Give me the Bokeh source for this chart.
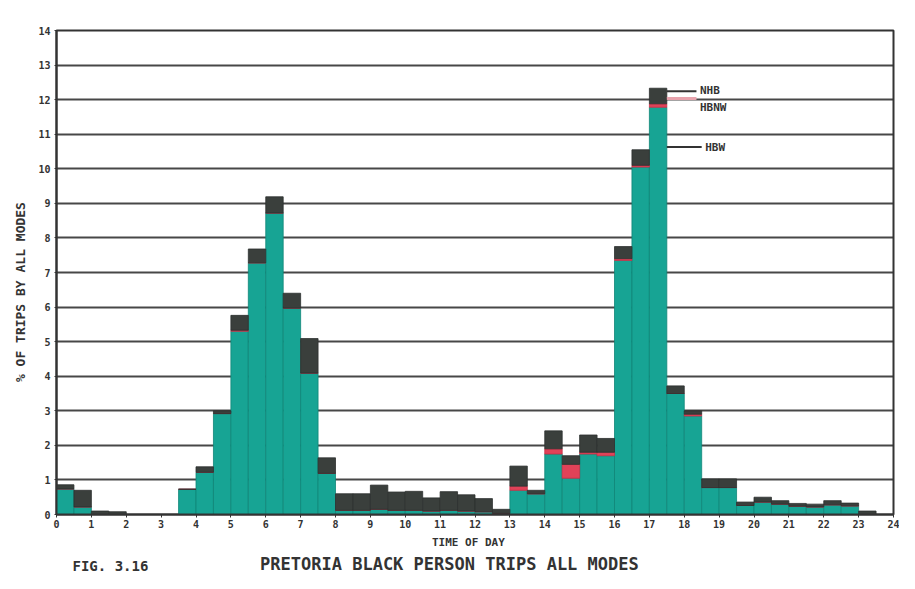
from bokeh.plotting import figure
from bokeh.models import ColumnDataSource, Label, Title, FixedTicker
from bokeh.embed import file_html
from bokeh.resources import INLINE

# half-hour bins (start hour)
bin_start = [0.0, 0.5, 1.0, 1.5, 2.0, 2.5, 3.0, 3.5, 4.0, 4.5, 5.0, 5.5,
             6.0, 6.5, 7.0, 7.5, 8.0, 8.5, 9.0, 9.5, 10.0, 10.5, 11.0, 11.5,
             12.0, 12.5, 13.0, 13.5, 14.0, 14.5, 15.0, 15.5, 16.0, 16.5, 17.0, 17.5,
             18.0, 18.5, 19.0, 19.5, 20.0, 20.5, 21.0, 21.5, 22.0, 22.5, 23.0, 23.5]

# % of trips, home-based work (teal)
hbw = [0.74, 0.22, 0.00, 0.00, 0.00, 0.00, 0.00, 0.73, 1.22, 2.92, 5.30, 7.28,
       8.72, 5.97, 4.09, 1.19, 0.12, 0.12, 0.15, 0.12, 0.12, 0.10, 0.12, 0.10,
       0.08, 0.03, 0.70, 0.60, 1.75, 1.05, 1.75, 1.70, 7.35, 10.05, 11.78, 3.50,
       2.85, 0.78, 0.78, 0.26, 0.36, 0.30, 0.24, 0.22, 0.28, 0.25, 0.00, 0.00]

# home-based non-work (red)
hbnw = [0.00, 0.00, 0.00, 0.00, 0.00, 0.00, 0.00, 0.00, 0.00, 0.00, 0.03, 0.00,
        0.00, 0.00, 0.00, 0.00, 0.00, 0.00, 0.00, 0.00, 0.00, 0.00, 0.00, 0.00,
        0.00, 0.00, 0.12, 0.00, 0.15, 0.40, 0.05, 0.10, 0.05, 0.05, 0.10, 0.00,
        0.05, 0.00, 0.00, 0.00, 0.00, 0.00, 0.00, 0.00, 0.00, 0.00, 0.00, 0.00]

# non-home-based (dark)
nhb = [0.12, 0.48, 0.10, 0.08, 0.00, 0.00, 0.00, 0.00, 0.16, 0.08, 0.43, 0.40,
       0.47, 0.43, 1.00, 0.45, 0.48, 0.48, 0.70, 0.53, 0.55, 0.38, 0.54, 0.47,
       0.38, 0.12, 0.58, 0.10, 0.52, 0.25, 0.50, 0.40, 0.35, 0.45, 0.45, 0.22,
       0.10, 0.25, 0.25, 0.10, 0.14, 0.10, 0.08, 0.08, 0.12, 0.08, 0.10, 0.00]

x_ticks = list(range(0, 25))
y_ticks = list(range(0, 15))
series = ["hbw", "hbnw", "nhb"]
series_labels = ["HBW", "HBNW", "NHB"]

TEAL = "#17a494"
RED = "#e04258"
DARK = "#3a3f3c"
INK = "#333333"
FONT = "DejaVu Sans Mono"

src = ColumnDataSource(dict(
    x=[s + 0.25 for s in bin_start], hbw=hbw, hbnw=hbnw, nhb=nhb))

p = figure(width=899, height=573, x_range=(0, 24), y_range=(0, 14),
           output_backend="svg", toolbar_location=None,
           min_border_left=56, min_border_right=6,
           min_border_top=30, min_border_bottom=59)
p.background_fill_color = "white"
p.border_fill_color = "white"
p.outline_line_color = INK
p.outline_line_width = 2

p.vbar_stack(series, x="x", width=0.5, source=src,
             fill_color=[TEAL, RED, DARK],
             line_color=["#0f8577", "#c93048", "#2c302e"], line_width=0.8)

# axes
p.xaxis.ticker = FixedTicker(ticks=x_ticks)
p.yaxis.ticker = FixedTicker(ticks=y_ticks)
for ax in (p.xaxis, p.yaxis):
    ax.axis_line_color = INK
    ax.axis_line_width = 2
    ax.major_tick_line_color = INK
    ax.minor_tick_line_color = None
    ax.major_label_text_font = FONT
    ax.major_label_text_font_style = "bold"
    ax.major_label_text_font_size = "10px"
    ax.major_label_text_color = INK
    ax.axis_label_text_font = FONT
    ax.axis_label_text_font_style = "bold"
    ax.axis_label_text_color = INK
p.xaxis.major_tick_in = 0
p.xaxis.major_tick_out = 3
p.xaxis.major_label_standoff = 2
p.xaxis.axis_label = "TIME  OF  DAY"
p.xaxis.axis_label_text_font_size = "11px"
p.xaxis.axis_label_standoff = 5
p.yaxis.major_tick_in = 0
p.yaxis.major_tick_out = 2
p.yaxis.major_label_standoff = 4
p.yaxis.axis_label = "%  OF  TRIPS  BY  ALL  MODES"
p.yaxis.axis_label_text_font_size = "13px"
p.yaxis.axis_label_standoff = 7

p.xgrid.grid_line_color = None
p.ygrid.grid_line_color = INK
p.ygrid.grid_line_width = 2
p.ygrid.grid_line_alpha = 0.9

# leader labels at the evening peak, derived from the data
totals = [a + b + c for a, b, c in zip(hbw, hbnw, nhb)]
pk = max(range(len(totals)), key=lambda i: totals[i])
x_edge = bin_start[pk] + 0.5
y_nhb = totals[pk] - nhb[pk] * 0.2
y_hbnw = hbw[pk] + hbnw[pk] + 0.15
y_hbw = hbw[pk] - 1.15
p.segment(x0=[x_edge, x_edge, x_edge], y0=[y_nhb, y_hbnw, y_hbw],
          x1=[x_edge + 0.85, x_edge + 0.85, x_edge + 1.0], y1=[y_nhb, y_hbnw, y_hbw],
          line_color=[INK, "#e8a3ad", INK], line_width=[2, 3, 2])
for txt, yy, dx in [(series_labels[2], y_nhb + 0.02, 0.95), (series_labels[1], y_hbnw - 0.27, 0.95),
                    (series_labels[0], y_hbw, 1.1)]:
    p.add_layout(Label(x=x_edge + dx, y=yy, text=txt, text_font=FONT,
                       text_font_style="bold", text_font_size="11px",
                       text_color=INK, text_baseline="middle"))

p.add_layout(Title(text="PRETORIA  BLACK  PERSON  TRIPS  ALL  MODES", align="center",
                   text_font=FONT, text_font_style="bold", text_font_size="17px",
                   text_color=INK, standoff=0, offset=24), "below")
# figure number, placed via the (otherwise empty) top side panel
p.add_layout(Label(x=16, y=-535, x_units="screen", y_units="screen",
                   text="FIG. 3.16", text_font=FONT, text_font_style="bold",
                   text_font_size="14px", text_color=INK, text_baseline="middle"), "above")

open("out.html", "w").write(file_html(p, INLINE))
